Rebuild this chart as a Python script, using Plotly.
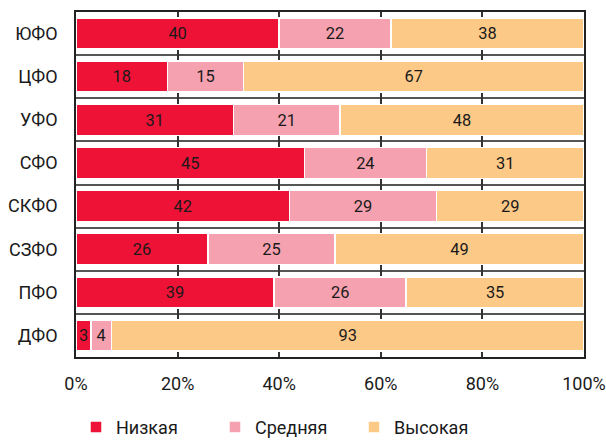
import plotly.graph_objects as go

regions = ["ЮФО", "ЦФО", "УФО", "СФО", "СКФО", "СЗФО", "ПФО", "ДФО"]
low = [40, 18, 31, 45, 42, 26, 39, 3]
mid = [22, 15, 21, 24, 29, 25, 26, 4]
high = [38, 67, 48, 31, 29, 49, 35, 93]
series_names = ["Низкая", "Средняя", "Высокая"]
colors = ["#EE1237", "#F6A1AF", "#FDC987"]
x_ticks = [0, 20, 40, 60, 80, 100]

ypos = list(range(len(regions)))[::-1]  # top to bottom

fig = go.Figure()
for name, vals, col in zip(series_names, [low, mid, high], colors):
    fig.add_trace(go.Bar(
        y=ypos, x=vals, name=name, orientation="h",
        marker=dict(color=col, line=dict(color="white", width=1.5)),
        text=[str(v) for v in vals], textposition="inside",
        insidetextanchor="middle",
        textfont=dict(color="#1a1a1a", size=17),
        width=0.72,
    ))

fig.update_layout(
    barmode="stack",
    width=606, height=441,
    margin=dict(l=76, r=22, t=12, b=84, autoexpand=False),
    paper_bgcolor="white", plot_bgcolor="white",
    font=dict(family="Roboto, sans-serif", size=18, color="#1a1a1a"),
    uniformtext=dict(minsize=10, mode="show"),
    legend=dict(orientation="h", x=0.0, xanchor="left", y=-0.15, yanchor="top",
                font=dict(size=18), itemwidth=30, traceorder="normal",
                entrywidth=94, entrywidthmode="pixels"),
    xaxis=dict(range=[0, 100], tickvals=x_ticks, ticktext=[f"{t}%" for t in x_ticks],
               showgrid=True, gridcolor="#333", gridwidth=1.5,
               showline=True, linecolor="#222", linewidth=1.5, mirror=True,
               ticks="", ticklabelstandoff=10, zeroline=False),
    yaxis=dict(range=[-0.5, len(regions) - 0.5], tickvals=ypos, ticktext=regions,
               showgrid=False, showline=True, linecolor="#222", linewidth=1.5, mirror=True,
               ticks="", ticklabelstandoff=13, zeroline=False,
               minor=dict(tickvals=[i + 0.5 for i in range(len(regions) - 1)],
                          showgrid=True, gridcolor="#555", gridwidth=1.5)),
)

fig.write_html("out.html")
